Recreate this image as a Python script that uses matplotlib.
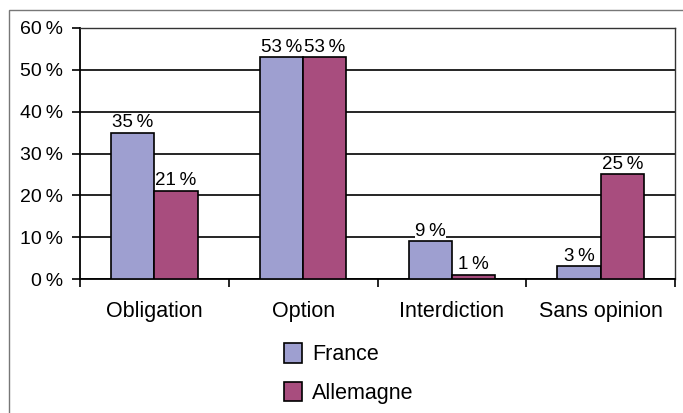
import matplotlib.pyplot as plt
import numpy as np
from matplotlib.patches import Rectangle

plt.rcParams['font.family'] = ['Liberation Sans', 'DejaVu Sans']

categories = ["Obligation", "Option", "Interdiction", "Sans opinion"]
france = [35, 53, 9, 3]
allemagne = [21, 53, 1, 25]
series_names = ["France", "Allemagne"]
yticks = [0, 10, 20, 30, 40, 50, 60]

col_fr = "#9e9fd0"
col_de = "#a84d7e"

fig = plt.figure(figsize=(6.83, 4.13), dpi=100)
# outer chart frame
fig.patches.append(Rectangle((9/683, -0.1), 1.0, 1 - 10/413 + 0.1, transform=fig.transFigure,
                             fill=False, edgecolor="#777777", linewidth=1.0))
ax = fig.add_axes([80/683, 1 - 279/413, (675 - 80)/683, (279 - 28)/413])

x = np.arange(len(categories))
w = 0.29
b1 = ax.bar(x - w/2, france, w, color=col_fr, edgecolor="black", linewidth=1.2,
            label=series_names[0], zorder=3)
b2 = ax.bar(x + w/2, allemagne, w, color=col_de, edgecolor="black", linewidth=1.2,
            label=series_names[1], zorder=3)

for bars, vals in [(b1, france), (b2, allemagne)]:
    for r, v in zip(bars, vals):
        ax.text(r.get_x() + r.get_width()/2, v + 0.4, "{}\u2009%".format(v),
                ha="center", va="bottom", fontsize=13.5, zorder=4,
                bbox=dict(facecolor="white", edgecolor="none", pad=0.3))

ax.set_xlim(-0.5, len(categories) - 0.5)
ax.set_ylim(0, 60)
ax.set_yticks(yticks)
ax.set_yticklabels(["{}\u2009%".format(t) for t in yticks], fontsize=14)
ax.set_xticks(x)
ax.set_xticklabels(categories, fontsize=15.5)
ax.tick_params(axis="x", length=0, pad=16)
ax.set_xticks(np.arange(len(categories) + 1) - 0.5, minor=True)
ax.tick_params(axis="x", which="minor", length=6, width=1.2, direction="out")
ax.tick_params(axis="y", length=6, width=1.2, direction="out", pad=6)
ax.yaxis.grid(True, color="black", linewidth=1.2, zorder=0)
ax.set_axisbelow(True)
for s in ["left", "bottom"]:
    ax.spines[s].set_linewidth(1.3)
for s in ["top", "right"]:
    ax.spines[s].set_linewidth(1.0)
    ax.spines[s].set_color("#333333")

fig.legend(handles=[b1, b2], labels=series_names, loc="upper left",
           bbox_to_anchor=(265/683, 1 - 324/413), frameon=False, fontsize=15.5,
           handlelength=0.8, handleheight=1.0, labelspacing=0.75, handletextpad=0.5)

fig.savefig("out.png", dpi=100)
